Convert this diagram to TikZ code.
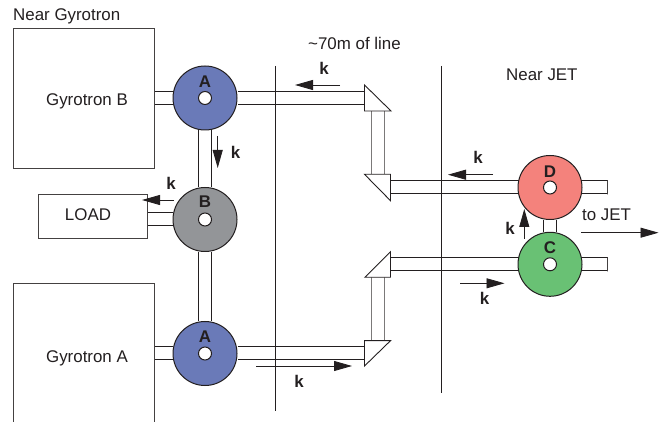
\documentclass[tikz,border=0pt]{standalone}
\usepackage{fontspec}
\setmainfont{Liberation Sans}
\usepackage{xcolor}
\usepackage{tikz}
\usetikzlibrary{positioning,backgrounds,arrows.meta}
\definecolor{InkBlack}{RGB}{35,31,32}
\definecolor{SplitBlue}{RGB}{106,122,184}
\definecolor{SplitGray}{RGB}{147,149,152}
\definecolor{SplitRed}{RGB}{244,130,124}
\definecolor{SplitGreen}{RGB}{105,193,116}
\tikzset{
    boxnode/.style={draw=InkBlack!85, fill=white, line width=0.9pt, inner sep=0pt},
    plaintext/.style={text=InkBlack, font=\fontsize{16.9}{19}\selectfont, inner sep=0pt},
    splitter/.style={circle, draw=InkBlack, line width=1pt, minimum size=64pt, inner sep=0pt},
    hole/.style={circle, draw=InkBlack, fill=white, line width=1pt, minimum size=13pt, inner sep=0pt},
    letter/.style={text=InkBlack, font=\fontsize{16.9}{19}\selectfont\bfseries, inner sep=0pt},
    knode/.style={text=InkBlack, font=\fontsize{16.9}{19}\selectfont\bfseries, inner sep=0pt},
    guide/.style={draw=InkBlack, double=white, double distance=12pt, line width=1pt},
    guideend/.style={draw=InkBlack!85, line width=1pt, minimum width=0pt, minimum height=14pt, inner sep=0pt},
    mirror/.style={draw=InkBlack, fill=white, line width=0.9pt, line join=miter},
    boundary/.style={draw=InkBlack, line width=0.9pt},
    karrow/.style={draw=InkBlack, line width=0.8pt, -{Triangle[length=18pt,width=10pt]}}
}
\begin{document}
\begin{tikzpicture}[x=1pt, y=-1pt]
    \useasboundingbox (0,0) rectangle (662,422);

    % --- GYROTRONS AND LOAD ---
    \node[boxnode, minimum width=141pt, minimum height=140pt] (gyrob) at (83.5,98) {};
    \node[plaintext, anchor=base] (gyrobtext) at (87,106) {Gyrotron B};
    \node[boxnode, minimum width=109.6pt, minimum height=44pt] (load) at (92.8,216) {};
    \node[plaintext] (loadtext) at (88,215) {LOAD};
    \coordinate (gyroatl) at (13,283);
    \coordinate (gyroatr) at (154,283);
    \coordinate (gyroabl) at (13,422);
    \coordinate (gyroabr) at (154,422);
    \coordinate (gyroaport) at (154,353.5);
    \coordinate (loadport) at (147.6,219.5);
    \draw[boxnode] (gyroabl) -- (gyroatl) -- (gyroatr) -- (gyroabr);
    \node[plaintext, anchor=base] (gyroatext) at (87,362.5) {Gyrotron A};

    % --- SPLITTERS ---
    \node[splitter, fill=SplitBlue] (atop) at (205,98) {};
    \node[splitter, fill=SplitGray] (bmid) at (205,219.5) {};
    \node[splitter, fill=SplitBlue] (abot) at (205,353.5) {};
    \node[splitter, fill=SplitRed] (dnode) at (550,187.5) {};
    \node[splitter, fill=SplitGreen] (cnode) at (550,264.3) {};
    \node[hole] (atophole) at (atop) {};
    \node[hole] (bmidhole) at (bmid) {};
    \node[hole] (abothole) at (abot) {};
    \node[hole] (dhole) at (dnode) {};
    \node[hole] (chole) at (cnode) {};
    \node[letter] (atoplabel) at (205,82) {A};
    \node[letter] (bmidlabel) at (205,202) {B};
    \node[letter] (abotlabel) at (205,337) {A};
    \node[letter] (dlabel) at (550,171.5) {D};
    \node[letter] (clabel) at (550,247.5) {C};

    % --- MIRROR CORNERS ---
    \coordinate (m1a) at (364.5,85);
    \coordinate (m1b) at (364.5,111);
    \coordinate (m1c) at (391,111);
    \coordinate (m2a) at (364.5,174.3);
    \coordinate (m2b) at (390.5,174.3);
    \coordinate (m2c) at (390.5,200.7);
    \coordinate (m3a) at (390.5,251.7);
    \coordinate (m3b) at (390.5,277.3);
    \coordinate (m3c) at (365,277.3);
    \coordinate (m4a) at (364.5,340.7);
    \coordinate (m4b) at (390.5,340.7);
    \coordinate (m4c) at (364.5,366);

    % --- WAVEGUIDES ---
    \coordinate (m1w) at (364.5,98);
    \coordinate (m1s) at (377.7,111);
    \coordinate (m2n) at (377.7,174.3);
    \coordinate (m2e) at (390.5,187.5);
    \coordinate (m3e) at (390.5,264.3);
    \coordinate (m3s) at (377.7,277.3);
    \coordinate (m4n) at (377.7,340.7);
    \coordinate (m4w) at (364.5,353.5);
    \node[guideend] (dend) at (607.5,187.5) {};
    \node[guideend] (cend) at (607.5,264.3) {};
    \begin{scope}[on background layer]
        \draw[guide] (gyrob.east |- atop) -- (atop);
        \draw[guide] (atop) -- (m1w);
        \draw[guide] (atop) -- (bmid);
        \draw[guide] (bmid) -- (abot);
        \draw[guide] (loadport) -- (bmid);
        \draw[guide] (gyroaport) -- (abot);
        \draw[guide] (abot) -- (m4w);
        \draw[guide, draw=InkBlack!60] (m1s) -- (m2n);
        \draw[guide] (m2e) -- (dend.center);
        \draw[guide] (m3e) -- (cend.center);
        \draw[guide, draw=InkBlack!60] (m3s) -- (m4n);
        \draw[guide] (dnode) -- (cnode);
    \end{scope}
    \draw[mirror] (m1a) -- (m1b) -- (m1c) -- cycle;
    \draw[mirror] (m2a) -- (m2b) -- (m2c) -- cycle;
    \draw[mirror] (m3a) -- (m3b) -- (m3c) -- cycle;
    \draw[mirror] (m4a) -- (m4b) -- (m4c) -- cycle;

    % --- BOUNDARIES ---
    \coordinate (line1top) at (275,66);
    \coordinate (line1bot) at (275,411);
    \coordinate (line2top) at (441.5,66);
    \coordinate (line2bot) at (441.5,393);
    \draw[boundary] (line1top) -- (line1bot);
    \draw[boundary] (line2top) -- (line2bot);

    % --- K ARROWS ---
    \coordinate (k1from) at (340,85);
    \coordinate (k1to) at (295,85);
    \coordinate (k2from) at (217.7,136);
    \coordinate (k2to) at (217.7,168);
    \coordinate (k3from) at (174,200);
    \coordinate (k3to) at (142,200);
    \coordinate (k4from) at (493,174.7);
    \coordinate (k4to) at (448,174.7);
    \coordinate (k5from) at (524.3,239);
    \coordinate (k5to) at (524.3,209);
    \coordinate (k6from) at (460,283.3);
    \coordinate (k6to) at (504.5,283.3);
    \coordinate (k7from) at (256,366);
    \coordinate (k7to) at (352,366);
    \coordinate (jetfrom) at (581,232.7);
    \coordinate (jetto) at (658.5,232.7);
    \draw[karrow] (k1from) -- (k1to);
    \draw[karrow] (k2from) -- (k2to);
    \draw[karrow] (k3from) -- (k3to);
    \draw[karrow] (k4from) -- (k4to);
    \draw[karrow] (k5from) -- (k5to);
    \draw[karrow] (k6from) -- (k6to);
    \draw[karrow] (k7from) -- (k7to);
    \draw[karrow] (jetfrom) -- (jetto);
    \node[knode] (k1) at (324,68) {k};
    \node[knode] (k2) at (235.5,152) {k};
    \node[knode] (k3) at (171,183) {k};
    \node[knode] (k4) at (478,157) {k};
    \node[knode] (k5) at (510,228) {k};
    \node[knode] (k6) at (484.5,298.5) {k};
    \node[knode] (k7) at (299,381) {k};

    % --- TEXTS ---
    \node[plaintext, anchor=base west] (neargyro) at (13,20.5) {Near Gyrotron};
    \node[plaintext, anchor=base west] (lineinfo) at (308,49.5) {\textasciitilde70m of line};
    \node[plaintext, anchor=base west] (nearjet) at (506,80.5) {Near JET};
    \node[plaintext, anchor=base west] (tojet) at (582,221) {to JET};
\end{tikzpicture}
\end{document}
